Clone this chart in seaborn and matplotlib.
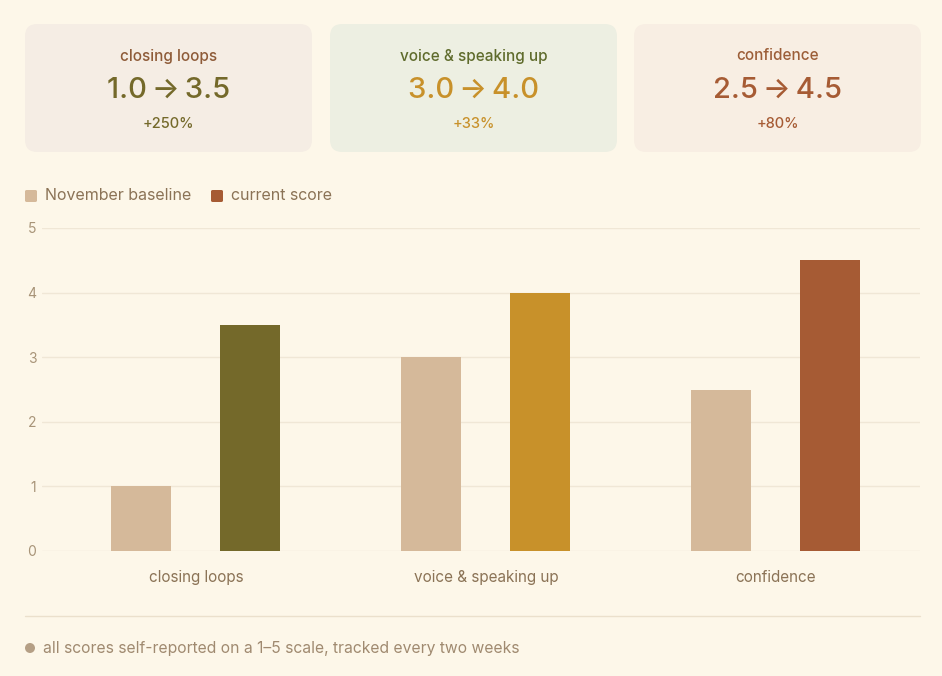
import pandas as pd
import matplotlib.pyplot as plt
from matplotlib.patches import FancyBboxPatch, Ellipse
import seaborn as sns

# data
categories = ["closing loops", "voice & speaking up", "confidence"]
baseline = [1.0, 3.0, 2.5]
current = [3.5, 4.0, 4.5]
series_names = ["November baseline", "current score"]

# styling
BG = "#FDF7E9"
base_color = "#D5B99A"
current_colors = ["#74692A", "#C8912A", "#A65B34"]
card_bg = ["#F5EDE4", "#EDEFE2", "#F8EEE3"]
title_colors = ["#8E5B38", "#5F6B2C", "#9C5E38"]
grid_color = "#F0E7D6"
tick_color = "#A89478"
label_color = "#8B7356"

sns.set_theme(style="white")
plt.rcParams["font.family"] = ["Inter", "DejaVu Sans"]

df = pd.DataFrame({
    "category": categories * 2,
    "score": baseline + current,
    "series": [series_names[0]] * 3 + [series_names[1]] * 3,
})

W, H = 942, 676
fig = plt.figure(figsize=(W / 100, H / 100), dpi=100, facecolor=BG)

def fx(px):
    return px / W

def fy(py):
    return 1 - py / H

# summary cards
card_x = [25, 330, 634]
card_w = 287
for i, cat in enumerate(categories):
    x0 = card_x[i]
    fig.patches.append(FancyBboxPatch(
        (fx(x0), fy(152)), fx(card_w), 128 / H,
        boxstyle="round,pad=0,rounding_size=0.013",
        transform=fig.transFigure, facecolor=card_bg[i], edgecolor="none",
        mutation_aspect=W / H))
    cx = fx(x0 + card_w / 2)
    pct = (current[i] - baseline[i]) / baseline[i] * 100
    fig.text(cx, fy(56), cat, ha="center", va="center", fontsize=11,
             color=title_colors[i], fontweight="medium")
    fig.text(cx, fy(90), f"{baseline[i]:.1f}\u2009\u2192\u2009{current[i]:.1f}",
             ha="center", va="center", fontsize=21, color=current_colors[i],
             fontweight="medium")
    fig.text(cx, fy(124), f"+{pct:.0f}%", ha="center", va="center", fontsize=10.5,
             color=current_colors[i], fontweight="medium")

# bar chart
ax = fig.add_axes([fx(42), fy(551), fx(920 - 42), (551 - 228) / H])
ax.set_facecolor(BG)
sns.barplot(data=df, x="category", y="score", hue="series",
            palette=[base_color, current_colors[2]], width=0.752, gap=0.45,
            saturation=1, ax=ax, legend=False)

# each current bar gets its own colour
cur_bars = [p for p in ax.patches if abs(p.get_facecolor()[0] - 0.65) < 0.02]
cur_bars = sorted(cur_bars, key=lambda p: p.get_x())
for p, c in zip(cur_bars, current_colors):
    p.set_facecolor(c)
for p in ax.patches:
    p.set_edgecolor("none")
    p.set_zorder(3)

ax.set_ylim(0, 5)
ax.set_xlim(-0.531, 2.497)
ax.set_yticks([0, 1, 2, 3, 4, 5])
for y in range(6):
    ax.axhline(y, color=grid_color, lw=1, zorder=1)
for s in ax.spines.values():
    s.set_visible(False)
ax.tick_params(axis="y", length=0, labelsize=10, labelcolor=tick_color, pad=4)
ax.tick_params(axis="x", length=0, labelsize=11, labelcolor=label_color, pad=14)
ax.set_xlabel("")
ax.set_ylabel("")

# legend
leg_items = [(25, series_names[0], base_color), (211, series_names[1], current_colors[2])]
for x0, name, c in leg_items:
    fig.patches.append(FancyBboxPatch(
        (fx(x0), fy(202)), fx(12), 12 / H,
        boxstyle="round,pad=0,rounding_size=0.002",
        transform=fig.transFigure, facecolor=c, edgecolor="none"))
    fig.text(fx(x0 + 20), fy(195.5), name, ha="left", va="center",
             fontsize=11.5, color=label_color)

# separator and footnote
fig.add_artist(plt.Line2D([fx(25), fx(920)], [fy(616), fy(616)],
                          color="#EBE0CC", lw=1, transform=fig.transFigure))
fig.patches.append(Ellipse((fx(30), fy(648)), fx(10), 10 / H, transform=fig.transFigure,
                           facecolor="#B59F85", edgecolor="none"))
fig.text(fx(43), fy(648), "all scores self-reported on a 1\u20135 scale, tracked every two weeks",
         ha="left", va="center", fontsize=11.3, color="#A08A70")

fig.savefig("out.png", dpi=100, facecolor=BG)
